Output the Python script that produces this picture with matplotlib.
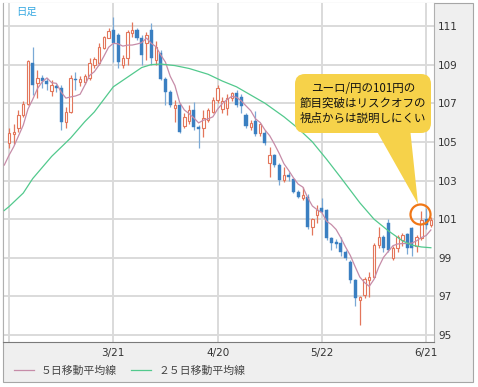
import numpy as np
import pandas as pd
import matplotlib
matplotlib.use('Agg')
import matplotlib.pyplot as plt
from matplotlib.patches import Rectangle, FancyBboxPatch, Polygon, Circle
from matplotlib.transforms import Affine2D

# ユーロ/円 日足 (2012/2/20 - 6/22)
dates = pd.bdate_range('2012-02-20', periods=90)

opens = [104.92, 105.42, 105.70, 106.40, 106.96, 109.07, 108.04, 108.30, 108.13, 107.61,
         107.87, 107.78, 106.05, 106.56, 108.24, 108.12, 108.12, 108.29, 108.98, 109.07,
         109.84, 110.40, 110.79, 110.53, 108.98, 109.33, 110.62, 110.79, 110.36, 110.10,
         110.79, 109.24, 109.62, 108.24, 107.60, 106.74, 106.91, 105.80, 106.10, 106.65,
         105.79, 105.70, 106.13, 106.56, 107.17, 106.70, 106.74, 107.25, 107.51, 107.30,
         106.40, 105.79, 106.10, 105.45, 105.45, 103.89, 104.32, 103.80, 103.02, 103.28,
         103.10, 102.41, 102.07, 102.16, 100.61, 101.21, 101.56, 101.47, 100.01, 99.80,
         99.75, 99.32, 98.80, 97.85, 96.84, 97.07, 97.85, 98.02, 99.66, 100.09,
         100.78, 99.00, 99.50, 99.90, 100.25, 100.55, 99.60, 100.00, 101.00, 100.70]
highs = [105.70, 105.95, 106.65, 107.10, 109.25, 109.93, 108.73, 108.47, 108.30, 108.20,
         108.00, 107.95, 106.82, 108.47, 108.64, 108.40, 108.50, 109.33, 109.40, 110.10,
         110.50, 110.88, 111.48, 110.62, 109.50, 110.79, 111.22, 110.88, 110.53, 110.70,
         111.14, 110.20, 109.76, 108.38, 107.69, 107.17, 107.00, 106.50, 106.90, 107.08,
         105.87, 106.65, 106.74, 107.34, 107.94, 107.30, 107.50, 107.60, 107.70, 107.50,
         106.50, 106.13, 106.60, 106.00, 105.60, 104.75, 104.37, 103.89, 103.71, 103.45,
         103.10, 102.50, 102.67, 102.30, 101.05, 101.73, 102.08, 101.50, 100.10, 99.95,
         100.09, 99.40, 98.90, 97.90, 97.00, 98.00, 98.25, 99.75, 100.61, 100.20,
         101.00, 99.60, 100.20, 100.30, 100.30, 100.60, 100.20, 101.40, 101.60, 101.10]
lows = [104.67, 104.90, 105.53, 106.30, 106.90, 107.43, 107.26, 107.78, 107.70, 107.35,
        107.60, 105.62, 105.70, 106.48, 107.69, 107.90, 108.00, 108.20, 108.80, 108.98,
        109.80, 110.36, 109.15, 108.81, 108.81, 108.98, 110.45, 110.27, 108.98, 109.24,
        108.98, 108.98, 108.20, 106.91, 106.82, 106.05, 105.44, 105.70, 105.90, 105.60,
        104.67, 105.27, 106.05, 106.50, 107.00, 106.50, 106.40, 107.10, 106.80, 106.50,
        105.70, 105.62, 105.30, 105.30, 104.85, 103.20, 103.72, 102.76, 102.94, 103.00,
        102.33, 102.07, 101.99, 100.50, 100.20, 100.79, 101.30, 99.90, 99.40, 99.50,
        99.10, 98.90, 97.70, 96.50, 95.52, 96.90, 96.95, 97.95, 99.50, 99.30,
        99.30, 98.90, 99.30, 99.60, 99.20, 99.10, 99.30, 99.90, 100.50, 100.60]
closes = [105.44, 105.52, 106.39, 106.96, 109.19, 107.95, 108.30, 108.13, 107.99, 107.95,
          107.78, 106.05, 106.56, 108.30, 108.18, 108.24, 108.41, 109.07, 109.27, 109.93,
          110.45, 110.76, 110.10, 109.15, 109.33, 110.70, 110.79, 110.36, 109.50, 110.53,
          109.33, 109.93, 108.24, 107.60, 106.91, 106.91, 105.53, 106.30, 106.65, 105.79,
          105.65, 106.22, 106.65, 107.17, 107.77, 107.10, 107.25, 107.51, 106.91, 106.85,
          105.80, 106.00, 105.40, 105.95, 104.93, 104.32, 103.80, 103.02, 103.28, 103.20,
          102.41, 102.16, 102.24, 100.60, 100.99, 101.47, 101.39, 100.01, 99.75, 99.72,
          99.32, 98.98, 97.85, 96.90, 96.98, 97.88, 98.00, 99.65, 100.09, 99.49,
          99.40, 99.50, 100.10, 100.20, 99.50, 99.50, 100.10, 100.95, 100.70, 100.95]
# 2/13-2/17 の終値 (5日線の左端用、ローソク足は描かない)
pre_closes = [102.9, 103.3, 103.6, 104.2, 105.0]

# 25日移動平均線 (チャートから読み取り)
ma25_idx = [-1, 0, 3, 5, 9, 13, 16, 18, 22, 25, 28, 30, 32, 35, 38, 42, 45, 48,
            54, 58, 61, 64, 67, 70, 74, 77, 80, 83, 85, 87, 89]
ma25_val = [101.45, 101.65, 102.35, 103.10, 104.25, 105.20, 106.05, 106.55, 107.85,
            108.35, 108.85, 109.00, 109.03, 108.95, 108.80, 108.50, 108.15, 107.85,
            107.00, 106.30, 105.70, 105.00, 104.10, 103.15, 101.85, 101.00, 100.40,
            99.88, 99.65, 99.56, 99.52]

tick_dates = ['2012-02-20', '2012-03-21', '2012-04-20', '2012-05-22', '2012-06-21']
tick_labels = ['', '3/21', '4/20', '5/22', '6/21']
y_ticks = [95, 97, 99, 101, 103, 105, 107, 109, 111]

note = 'ユーロ/円の101円の\n節目突破はリスクオフの\n視点からは説明しにくい'
legend_labels = ['５日移動平均線', '２５日移動平均線']

UP = '#E3765B'
DOWN = '#3A7FC1'
DOWN_WICK = '#7AA9D6'
MA5 = '#C68CA8'
MA25 = '#52C98D'
GRID = '#DADADA'
PANEL = '#EFEFEF'
YELLOW = '#F6D24A'
RING = '#F07716'
JP = ['Noto Sans CJK JP', 'DejaVu Sans']

W, H = 478, 387
fig = plt.figure(figsize=(W / 100, H / 100), dpi=100)
# 参照画像のピクセル座標 (y は下向き)
px = Affine2D().scale(1 / W, -1 / H).translate(0, 1) + fig.transFigure

fig.add_artist(Rectangle((3, 3), 470, 379, transform=px, fc=PANEL,
                         ec='#A6A6A6', lw=0.8, zorder=0))

ax = fig.add_axes([3 / W, 1 - 342 / H, 431 / W, 339 / H])
ax.set_facecolor('white')
ax.set_xlim(-1.27, 89.66)
ax.set_ylim(94.64, 112.19)

o = np.array(opens)
h = np.array(highs)
l = np.array(lows)
c = np.array(closes)
x = np.arange(len(dates))
up = c >= o
dn = ~up

ax.vlines(x[up], l[up], h[up], color=UP, lw=0.9, zorder=2)
ax.vlines(x[dn], l[dn], h[dn], color=DOWN_WICK, lw=0.9, zorder=2)
ax.bar(x[up], np.maximum(c - o, 0.05)[up], bottom=o[up], width=0.52,
       facecolor='white', edgecolor=UP, lw=0.8, zorder=3)
ax.bar(x[dn], np.maximum(o - c, 0.05)[dn], bottom=c[dn], width=0.64,
       facecolor=DOWN, edgecolor=DOWN, lw=0.3, zorder=3)

all_c = pd.Series(pre_closes + closes)
ma5 = all_c.rolling(5).mean().to_numpy()[4:]
ma5_x = np.arange(-1, len(dates))
l5, = ax.plot(ma5_x, ma5, color=MA5, lw=0.9, zorder=4)
l25, = ax.plot(ma25_idx, ma25_val, color=MA25, lw=0.9, zorder=4)

tick_pos = [dates.get_loc(pd.Timestamp(d)) for d in tick_dates]
ax.set_xticks(tick_pos)
ax.set_xticklabels(tick_labels)
ax.set_yticks(y_ticks)
ax.yaxis.tick_right()
ax.grid(color=GRID, lw=1.4)
ax.set_axisbelow(True)
ax.tick_params(axis='x', length=0, pad=4, labelsize=7.5, labelcolor='#333333')
ax.tick_params(axis='y', length=0, pad=3, labelsize=7.5, labelcolor='#333333')
for s in ['left', 'right']:
    ax.spines[s].set_color('#B0B0B0')
ax.spines['bottom'].set_color('#7A7A7A')
ax.spines['top'].set_visible(False)

ax.text(0.03, 0.973, '日足', transform=ax.transAxes, ha='left', va='center',
        fontsize=7.5, color='#38A9E2', family=JP)

# 吹き出し
fig.add_artist(Polygon([(375, 128), (410, 128), (418, 204)], closed=True,
                       transform=px, fc=YELLOW, ec='none', zorder=5))
fig.add_artist(FancyBboxPatch((305, 84), 116, 39, boxstyle='round,pad=10',
                              transform=px, fc=YELLOW, ec='none', zorder=5))
fig.text(363, 103.5, note, transform=px, ha='center', va='center',
         fontsize=8.3, family=JP, linespacing=1.15, color='#111111', zorder=6)
fig.add_artist(Circle((420.5, 214.5), 10, transform=px, fc='none',
                      ec=RING, lw=1.6, zorder=6))

leg = fig.legend([l5, l25], legend_labels, loc='center left',
                 bbox_to_anchor=(14 / W, 1 - 371 / H), ncol=2, frameon=False,
                 prop={'family': JP, 'size': 7.8}, handlelength=1.8,
                 handletextpad=0.7, columnspacing=1.3, borderpad=0,
                 borderaxespad=0)
for t in leg.get_texts():
    t.set_color('#444444')

fig.savefig('out.png', dpi=100)
